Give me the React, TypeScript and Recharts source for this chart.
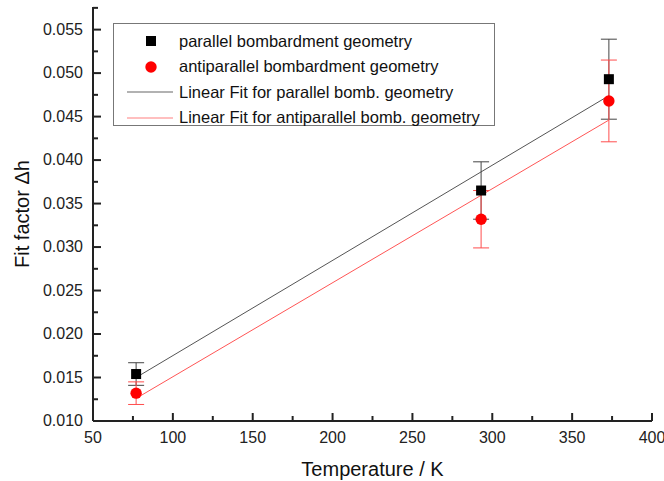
import React from "react";
import { ComposedChart, Scatter, Line, XAxis, YAxis, ErrorBar, Legend } from "recharts";

// measured values (temperature in K, fit factor Δh)
const temperatures = [77, 293, 373];
const parallelValues = [0.0154, 0.0365, 0.0493];
const parallelErrors = [0.0013, 0.0033, 0.0046];
const antiparallelValues = [0.0132, 0.0332, 0.0468];
const antiparallelErrors = [0.0013, 0.0033, 0.0047];

// linear fits, evaluated at the end points
const fitTemperatures = [77, 373];
const parallelFit = [0.015, 0.0474];
const antiparallelFit = [0.0126, 0.0446];

const xTicks = [50, 75, 100, 125, 150, 175, 200, 225, 250, 275, 300, 325, 350, 375, 400];
const yTicks = [
  0.01, 0.0125, 0.015, 0.0175, 0.02, 0.0225, 0.025, 0.0275, 0.03, 0.0325, 0.035, 0.0375, 0.04,
  0.0425, 0.045, 0.0475, 0.05, 0.0525, 0.055, 0.0575,
];

const seriesNames = [
  "parallel bombardment geometry",
  "antiparallel bombardment geometry",
  "Linear Fit for parallel bomb. geometry",
  "Linear Fit for antiparallel bomb. geometry",
];

const FONT = "'Liberation Sans', Arial, Helvetica, sans-serif";
const AXIS = "#222";
const GAP = 10;

const parallelData = temperatures.map((t, i) => ({ x: t, y: parallelValues[i], err: parallelErrors[i] }));
const antiparallelData = temperatures.map((t, i) => ({ x: t, y: antiparallelValues[i], err: antiparallelErrors[i] }));
const parallelFitData = fitTemperatures.map((t, i) => ({ x: t, y: parallelFit[i] }));
const antiparallelFitData = fitTemperatures.map((t, i) => ({ x: t, y: antiparallelFit[i] }));

const isMajorX = (v: number) => v % 50 === 0;
const isMajorY = (v: number) => Math.round(v * 10000) % 50 === 0;

type Side = "bottom" | "left" | "top" | "right";

const makeTick =
  (side: Side, isMajor: (v: number) => boolean, format?: (v: number) => string) =>
  (props: any) => {
    const { x, y, payload } = props;
    const v = payload.value;
    const major = isMajor(v);
    const len = major ? 8 : 5;
    let line = null;
    let label = null;
    if (side === "bottom") {
      const ay = y - GAP;
      line = <line x1={x} x2={x} y1={ay} y2={ay - len} />;
      if (format && major)
        label = (
          <text x={x} y={ay + 22} textAnchor="middle">
            {format(v)}
          </text>
        );
    } else if (side === "left") {
      const ax = x + GAP;
      line = <line x1={ax} x2={ax + len} y1={y} y2={y} />;
      if (format && major)
        label = (
          <text x={ax - 10} y={y + 5} textAnchor="end">
            {format(v)}
          </text>
        );
    } else if (side === "top") {
      const ay = y + GAP;
      line = <line x1={x} x2={x} y1={ay} y2={ay + len} />;
    } else {
      const ax = x - GAP;
      line = <line x1={ax} x2={ax - len} y1={y} y2={y} />;
    }
    return (
      <g>
        <g stroke={AXIS} strokeWidth={2}>{line}</g>
        {label && (
          <g fill="#222" fontSize={16} fontFamily={FONT}>
            {label}
          </g>
        )}
      </g>
    );
  };

const Square = (props: any) => <rect x={props.cx - 5} y={props.cy - 5} width={10} height={10} fill="#000" />;
const Dot = (props: any) => <circle cx={props.cx} cy={props.cy} r={5.7} fill="#ff0000" />;

const legendRows = [
  { kind: "square", color: "#000" },
  { kind: "circle", color: "#ff0000" },
  { kind: "line", color: "#666" },
  { kind: "line", color: "#ff8080" },
];

const LegendBox = () => (
  <div
    style={{
      width: 380,
      height: 101,
      border: "1px solid #777",
      background: "#fff",
      fontFamily: FONT,
      fontSize: 16.5,
      color: "#111",
      position: "relative",
    }}
  >
    {legendRows.map((row, i) => (
      <div
        key={i}
        style={{ position: "absolute", left: 0, top: 5 + i * 25.6, height: 24, width: 380, display: "flex", alignItems: "center" }}
      >
        <svg width={62} height={24} style={{ flex: "none" }}>
          {row.kind === "square" && <rect x={32} y={7} width={10} height={10} fill={row.color} />}
          {row.kind === "circle" && <circle cx={37} cy={12} r={5.7} fill={row.color} />}
          {row.kind === "line" && <line x1={13} x2={59} y1={12} y2={12} stroke={row.color} strokeWidth={1.2} />}
        </svg>
        <span style={{ marginLeft: 3, whiteSpace: "nowrap" }}>{seriesNames[i]}</span>
      </div>
    ))}
  </div>
);

const XTitle = (props: any) => {
  const vb = props.viewBox;
  return (
    <text x={vb.x + vb.width / 2} y={vb.y + 55} textAnchor="middle" fontSize={20} fontFamily={FONT} fill="#111">
      Temperature / K
    </text>
  );
};

const YTitle = (props: any) => {
  const vb = props.viewBox;
  const cx = 29;
  const cy = vb.y + vb.height / 2;
  return (
    <text x={cx} y={cy} transform={`rotate(-90, ${cx}, ${cy})`} textAnchor="middle" fontSize={20} fontFamily={FONT} fill="#111">
      Fit factor Δh
    </text>
  );
};

export default function App() {
  return (
    <div style={{ position: "absolute", left: 0, top: 0, width: 664, height: 481, background: "#fff" }}>
      <ComposedChart width={664} height={481} margin={{ top: 7, right: 12, bottom: 0, left: 0 }}>
        <XAxis
          type="number"
          dataKey="x"
          domain={[50, 400]}
          ticks={xTicks}
          interval={0}
          allowDataOverflow
          height={60}
          tickSize={0}
          tickMargin={GAP}
          tickLine={false}
          axisLine={{ stroke: AXIS, strokeWidth: 2 }}
          tick={makeTick("bottom", isMajorX, (v) => String(v))}
          label={XTitle}
        />
        <XAxis
          xAxisId="top"
          orientation="top"
          type="number"
          dataKey="x"
          domain={[50, 400]}
          ticks={xTicks}
          interval={0}
          allowDataOverflow
          height={0}
          tickSize={0}
          tickMargin={GAP}
          tickLine={false}
          axisLine={{ stroke: AXIS, strokeWidth: 2 }}
          tick={makeTick("top", isMajorX)}
        />
        <YAxis
          type="number"
          domain={[0.01, 0.0576]}
          ticks={yTicks}
          interval={0}
          allowDataOverflow
          width={93}
          tickSize={0}
          tickMargin={GAP}
          tickLine={false}
          axisLine={{ stroke: AXIS, strokeWidth: 2 }}
          tick={makeTick("left", isMajorY, (v) => v.toFixed(3))}
          label={YTitle}
        />
        <YAxis
          yAxisId="right"
          orientation="right"
          type="number"
          domain={[0.01, 0.0576]}
          ticks={yTicks}
          interval={0}
          allowDataOverflow
          width={0}
          tickSize={0}
          tickMargin={GAP}
          tickLine={false}
          axisLine={{ stroke: AXIS, strokeWidth: 2 }}
          tick={makeTick("right", isMajorY)}
        />
        <Line
          data={parallelFitData}
          dataKey="y"
          name={seriesNames[2]}
          type="linear"
          stroke="#555"
          strokeWidth={1}
          dot={false}
          isAnimationActive={false}
        />
        <Line
          data={antiparallelFitData}
          dataKey="y"
          name={seriesNames[3]}
          type="linear"
          stroke="#ff5555"
          strokeWidth={1}
          dot={false}
          isAnimationActive={false}
        />
        <Scatter data={parallelData} dataKey="y" name={seriesNames[0]} shape={Square} isAnimationActive={false}>
          <ErrorBar dataKey="err" direction="y" width={8} stroke="#444" strokeWidth={1} />
        </Scatter>
        <Scatter data={antiparallelData} dataKey="y" name={seriesNames[1]} shape={Dot} isAnimationActive={false}>
          <ErrorBar dataKey="err" direction="y" width={8} stroke="#ff4d4d" strokeWidth={1} />
        </Scatter>
        <Legend
          layout="vertical"
          align="center"
          verticalAlign="middle"
          wrapperStyle={{ left: 113, top: 23, width: 382 }}
          content={() => <LegendBox />}
        />
      </ComposedChart>
    </div>
  );
}
